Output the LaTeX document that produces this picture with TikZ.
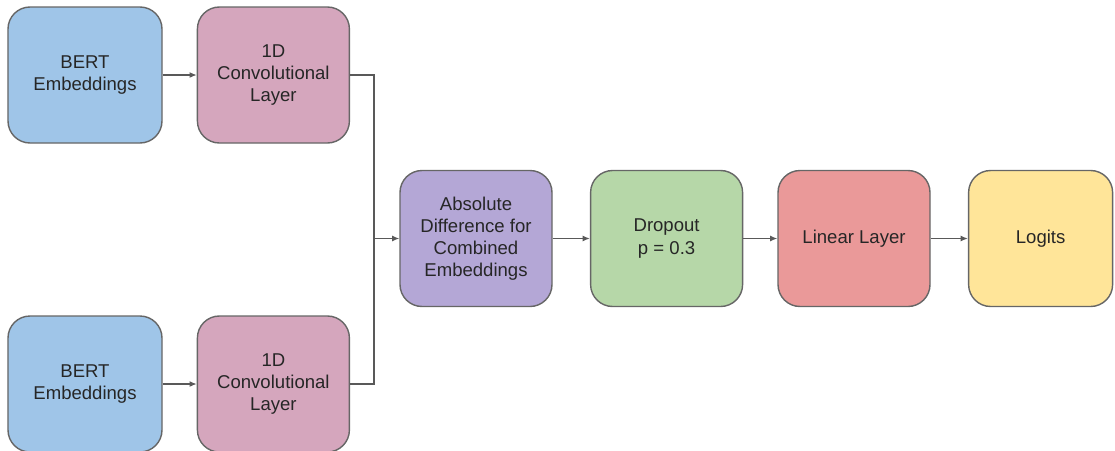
\documentclass[tikz,border=0pt]{standalone}
\usepackage{fontspec}
\setmainfont{Liberation Sans}
\usetikzlibrary{positioning,arrows.meta}
\definecolor{bertblue}{HTML}{9FC5E8}
\definecolor{convpink}{HTML}{D5A6BD}
\definecolor{absviolet}{HTML}{B4A7D6}
\definecolor{dropgreen}{HTML}{B6D7A8}
\definecolor{linred}{HTML}{EA9999}
\definecolor{logyellow}{HTML}{FFE599}
\definecolor{edgegray}{HTML}{666666}
\definecolor{arrowgray}{HTML}{595959}
\begin{document}
\begin{tikzpicture}[
    block/.style={draw=edgegray, line width=1pt, rounded corners=0.55cm,
        minimum width=3.8cm, minimum height=3.4cm, align=center,
        font=\fontsize{13.2}{15.7}\selectfont, text=black!85},
    link/.style={draw=arrowgray, line width=0.9pt, -{Latex[length=1.8mm,width=1.5mm]}},
    wire/.style={draw=arrowgray, line width=0.9pt}
    ]
    \useasboundingbox (0,0) rectangle (27.875,-11.25);

    \node[block, fill=bertblue, minimum width=3.85cm] (bert1) at (2.125,-1.875) {BERT\\Embeddings};
    \node[block, fill=convpink, right=0.85cm of bert1] (conv1) {1D\\Convolutional\\Layer};
    \node[block, fill=bertblue, minimum width=3.85cm] (bert2) at (2.125,-9.6) {BERT\\Embeddings};
    \node[block, fill=convpink, right=0.85cm of bert2] (conv2) {1D\\Convolutional\\Layer};

    \node[block, fill=absviolet] (absdiff) at (11.9,-5.9625) {Absolute\\Difference for\\Combined\\Embeddings};
    \node[block, fill=dropgreen, right=0.93cm of absdiff] (dropout) {Dropout\\p = 0.3};
    \node[block, fill=linred, right=0.85cm of dropout] (linear) {Linear Layer};
    \node[block, fill=logyellow, minimum width=3.6cm, right=0.93cm of linear] (logits) {Logits};

    \coordinate (join) at (9.35,-5.9625);

    \draw[link] (bert1) -- (conv1);
    \draw[link] (bert2) -- (conv2);
    \draw[wire] (conv1.east) -- (conv1.east -| join) -- (conv2.east -| join) -- (conv2.east);
    \draw[link] (join) -- (absdiff);
    \draw[link] (absdiff) -- (dropout);
    \draw[link] (dropout) -- (linear);
    \draw[link] (linear) -- (logits);
\end{tikzpicture}
\end{document}
